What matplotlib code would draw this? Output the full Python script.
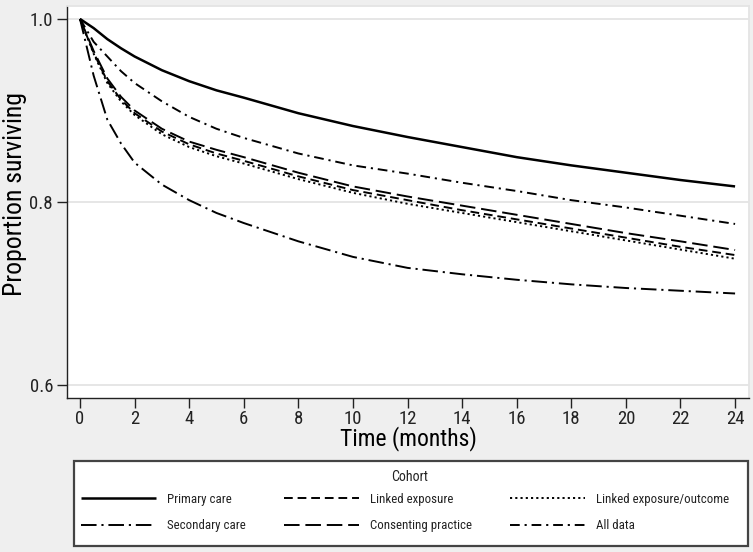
import matplotlib
matplotlib.use("Agg")
import matplotlib.pyplot as plt
from matplotlib import font_manager
from matplotlib.font_manager import FontProperties
from matplotlib.patches import Rectangle

# ---------------- data ----------------
months = [0, 0.5, 1, 1.5, 2, 3, 4, 5, 6, 8, 10, 12, 14, 16, 18, 20, 22, 24]

primary_care = [1.000, 0.990, 0.978, 0.968, 0.959, 0.944, 0.932, 0.922, 0.914, 0.897,
                0.883, 0.871, 0.860, 0.849, 0.840, 0.832, 0.824, 0.817]
linked_exposure = [1.000, 0.963, 0.932, 0.912, 0.897, 0.877, 0.863, 0.853, 0.845, 0.828,
                   0.813, 0.802, 0.791, 0.781, 0.771, 0.761, 0.751, 0.742]
linked_exp_outcome = [1.000, 0.962, 0.930, 0.910, 0.895, 0.874, 0.860, 0.850, 0.842, 0.825,
                      0.810, 0.798, 0.788, 0.778, 0.768, 0.758, 0.748, 0.738]
secondary_care = [1.000, 0.938, 0.890, 0.864, 0.843, 0.819, 0.802, 0.788, 0.777, 0.757,
                  0.740, 0.728, 0.721, 0.715, 0.710, 0.706, 0.703, 0.700]
consenting_practice = [1.000, 0.965, 0.935, 0.915, 0.900, 0.880, 0.866, 0.857, 0.849, 0.832,
                       0.817, 0.806, 0.796, 0.786, 0.776, 0.766, 0.757, 0.7475]
all_data = [1.000, 0.975, 0.959, 0.943, 0.930, 0.910, 0.893, 0.880, 0.870, 0.853,
            0.840, 0.831, 0.821, 0.812, 0.802, 0.794, 0.785, 0.776]

x_ticks = list(range(0, 25, 2))
y_ticks = [0.6, 0.8, 1.0]
y_tick_labels = ["0.6", "0.8", "1.0"]

# ---------------- fonts ----------------
fl = font_manager.fontManager.ttflist
names = {f.name for f in fl}
narrow = None
for cand in ["Liberation Sans Narrow", "Arial Narrow", "Roboto Condensed",
             "Open Sans Condensed", "Noto Sans Condensed", "DejaVu Sans Condensed"]:
    if cand in names:
        narrow = FontProperties(family=cand)
        break
if narrow is None:
    for fam in ["Noto Sans", "Open Sans", "DejaVu Sans", "Roboto"]:
        hits = [f for f in fl if f.name == fam and str(f.stretch) in
                ("condensed", "semi-condensed", "extra-condensed", "300", "400")]
        if hits:
            narrow = FontProperties(fname=hits[0].fname)
            break

if narrow is not None:
    SCALE = 1.0
    base_fp = narrow
else:
    SCALE = 0.84
    base_fp = FontProperties(family="Liberation Sans")


def fp(size):
    p = base_fp.copy()
    p.set_size(size * SCALE)
    return p


BG = "#efefef"
W, H = 753, 552
fig = plt.figure(figsize=(W / 100, H / 100), dpi=100, facecolor=BG)

ax = fig.add_axes([67 / W, 154 / H, 682 / W, 392.3 / H])
ax.set_facecolor("white")

series = [
    ("Primary care", primary_care, "-", 1.8),
    ("Secondary care", secondary_care, (0, (8, 2.5, 1.1, 2.5)), 1.4),
    ("Linked exposure", linked_exposure, (0, (4.5, 2.5)), 1.4),
    ("Consenting practice", consenting_practice, (0, (8, 3)), 1.4),
    ("Linked exposure/outcome", linked_exp_outcome, (0, (1.1, 1.6)), 1.4),
    ("All data", all_data, (0, (5, 2.5, 1.1, 2.5)), 1.4),
]
handles = []
for name, vals, ls, lw in series:
    h, = ax.plot(months, vals, color="black", linestyle=ls, linewidth=lw, label=name,
                 solid_capstyle="butt", dash_capstyle="butt")
    handles.append(h)

ax.set_xlim(-0.477, 24.51)
ax.set_ylim(0.5858, 1.0145)
ax.set_xticks(x_ticks)
ax.set_xticklabels([str(v) for v in x_ticks], fontproperties=fp(13.5))
ax.set_yticks(y_ticks)
ax.set_yticklabels(y_tick_labels, fontproperties=fp(13.5))

ax.grid(axis="y", color="#e4e4e4", linewidth=1.3)
ax.set_axisbelow(True)

for s in ["top", "right"]:
    ax.spines[s].set_color("#e4e4e4")
    ax.spines[s].set_linewidth(1.3)
for s in ["left", "bottom"]:
    ax.spines[s].set_color("#222222")
    ax.spines[s].set_linewidth(1.0)

ax.tick_params(axis="both", direction="out", length=7, width=1.0, color="#222222",
               labelcolor="#222222")
ax.tick_params(axis="x", pad=1.5)
ax.tick_params(axis="y", pad=3)

ax.set_xlabel("Time (months)", fontproperties=fp(17), color="black")
ax.xaxis.set_label_coords(0.5, -0.104)
ax.xaxis.label.set_va("center")
ax.set_ylabel("Proportion surviving", fontproperties=fp(18.5), color="black")
ax.yaxis.set_label_coords(-0.076, 0.52)
ax.yaxis.label.set_va("center")

# legend frame and title
fig.patches.append(Rectangle((74 / W, (H - 546) / H), 674 / W, 85 / H,
                             transform=fig.transFigure, facecolor="white",
                             edgecolor="#444444", linewidth=1.6, zorder=0))
fig.text(410 / W, (H - 477) / H, "Cohort", fontproperties=fp(10), color="#222222",
         ha="center", va="center")

LEG_FS = 9.3
leg = fig.legend(handles=handles, ncol=3, loc="center left",
                 bbox_to_anchor=(72 / W, (H - 512.5) / H), frameon=False,
                 prop=fp(LEG_FS),
                 handlelength=5.8 / SCALE, handletextpad=0.85 / SCALE,
                 columnspacing=2.95 / SCALE, labelspacing=1.05 / SCALE,
                 borderpad=0.2 / SCALE)
for t in leg.get_texts():
    t.set_color("#222222")

fig.savefig("out.png", dpi=100, facecolor=BG)
